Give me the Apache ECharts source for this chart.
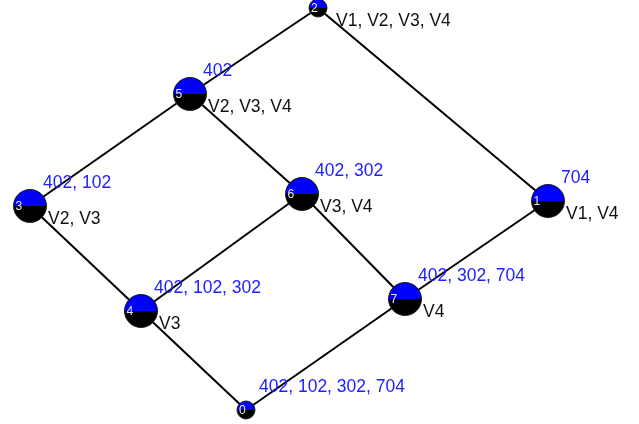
<!DOCTYPE html>
<html><head><meta charset="utf-8">
<script src="https://cdn.jsdelivr.net/npm/echarts@6/dist/echarts.min.js"></script>
<style>html,body{margin:0;padding:0;background:#fff}#c{width:639px;height:424px}</style>
</head><body><div id="c"></div>
<script>
// Concept lattice nodes
var nodeIds = ['0','1','2','3','4','5','6','7'];
var nodeX = [246, 548, 318, 30, 141, 190, 302, 405];
var nodeY = [410, 201, 8, 206, 311, 94, 194, 299];
var extentLabels = ['402, 102, 302, 704', '704', '', '402, 102', '402, 102, 302', '402', '402, 302', '402, 302, 704'];
var intentLabels = ['', 'V1, V4', 'V1, V2, V3, V4', 'V2, V3', 'V3', 'V2, V3, V4', 'V3, V4', 'V4'];
var edges = [['2','5'],['2','1'],['5','3'],['5','6'],['3','4'],['6','4'],['6','7'],['1','7'],['4','0'],['7','0']];

var idx = {};
nodeIds.forEach(function(id,i){ idx[id]=i; });
var nodeData = nodeIds.map(function(id,i){ return [nodeX[i], nodeY[i], i]; });
var edgeData = edges.map(function(e){
  var a = idx[e[0]], b = idx[e[1]];
  return { coords: [[nodeX[a], nodeY[a]], [nodeX[b], nodeY[b]]] };
});
var FONT = '17.5px "Liberation Sans", Arial, sans-serif';

var chart = echarts.init(document.getElementById('c'), null, {renderer:'canvas'});
chart.setOption({
  animation: false,
  grid: {left:0, right:0, top:0, bottom:0},
  xAxis: {type:'value', min:0, max:639, show:false},
  yAxis: {type:'value', min:0, max:424, inverse:true, show:false},
  series: [
    {
      type: 'lines', coordinateSystem: 'cartesian2d', z: 1,
      lineStyle: {color:'#000', width:2, opacity:1},
      data: edgeData
    },
    {
      type: 'custom', z: 2,
      data: nodeData,
      renderItem: function(params, api){
        var i = api.value(2);
        var p = api.coord([api.value(0), api.value(1)]);
        var ext = extentLabels[i], inn = intentLabels[i];
        var r = (ext === '' || inn === '') ? 9 : 16.5;
        var children = [
          {type:'circle', shape:{cx:p[0], cy:p[1], r:r}, style:{fill:'#000', stroke:'#222', lineWidth:1}},
          {type:'sector', shape:{cx:p[0], cy:p[1], r0:0, r:r-0.5, startAngle:Math.PI, endAngle:2*Math.PI, clockwise:true}, style:{fill:'#0000ff'}},
          {type:'text', style:{x:p[0]-r+2, y:p[1]+1, text:nodeIds[i], fill:'#e8ecff', font:'12px "Liberation Sans", Arial, sans-serif', align:'left', verticalAlign:'middle'}}
        ];
        if (ext) children.push({type:'text', style:{x:p[0]+13, y:p[1]-14, text:ext, fill:'#2020ff', font:FONT, align:'left', verticalAlign:'bottom'}});
        if (inn) children.push({type:'text', style:{x:p[0]+18, y:p[1]+4, text:inn, fill:'#111', font:FONT, align:'left', verticalAlign:'top'}});
        return {type:'group', children:children};
      }
    }
  ]
});
</script></body></html>
